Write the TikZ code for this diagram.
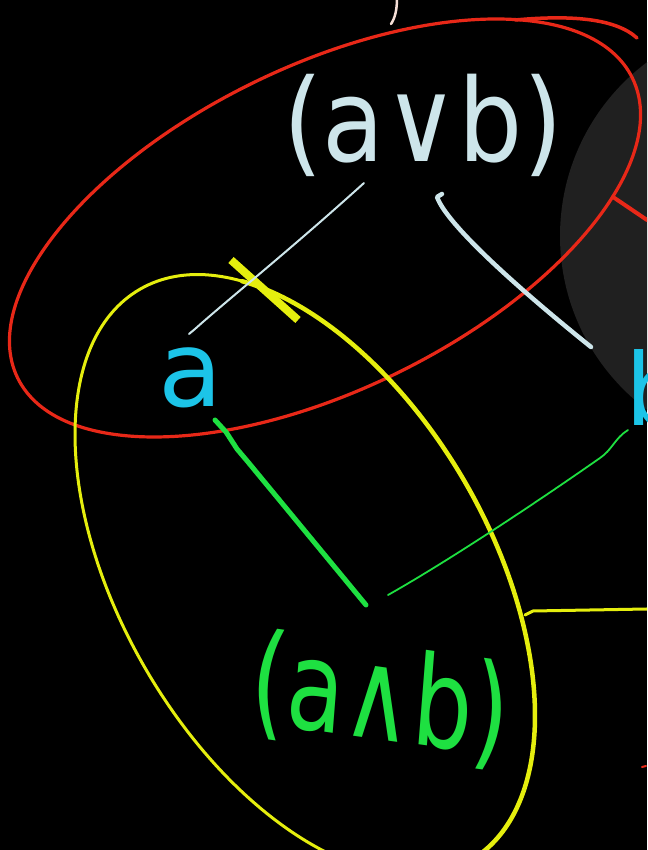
\documentclass[tikz,border=0pt]{standalone}
\usepackage{fontspec}
\newfontfamily\handfont{DejaVu Sans}
\definecolor{Disc}{RGB}{32,32,32}
\definecolor{Rline}{RGB}{232,40,24}
\definecolor{Yline}{RGB}{229,238,14}
\definecolor{Gline}{RGB}{30,224,65}
\definecolor{Ctext}{RGB}{28,196,232}
\definecolor{Wtext}{RGB}{205,229,234}
\definecolor{Ptick}{RGB}{245,222,214}

\begin{document}
\begin{tikzpicture}[x=1pt,y=1pt,line cap=round,line join=round,
  word/.style={inner sep=0pt,font=\handfont\fontsize{#1}{#1}\selectfont}]
\useasboundingbox (0,0) rectangle (647,850);
\fill[black] (0,0) rectangle (647,850);
\begin{scope}
\clip (0,0) rectangle (647,850);
\fill[Disc] (777,614) circle[radius=217];
% red ring
\draw[Rline,line width=3.2pt] (325,622) ellipse[x radius=342,y radius=162,rotate=26];
\draw[Rline,line width=3.5pt] (515,830) .. controls (570,835) and (615,832) .. (637,812);
\draw[Rline,line width=4pt] (613,653) -- (647,630);
\draw[Rline,line width=2pt] (642,83) -- (646,84);
\draw[Ptick,line width=2.5pt] (397,852) .. controls (397,840) and (395,832) .. (391,826);
% yellow ring
\draw[Yline,line width=3pt] (305,275) ellipse[x radius=330,y radius=185,rotate=-60];
\draw[Yline,line width=4.5pt,rotate around={-60:(305,275)}] ([shift={(150:330 and 185)}]305,275) arc[start angle=150,end angle=-40,x radius=330,y radius=185];
\draw[Yline,line width=8pt,line cap=butt] (231,590) -- (298,530);
\draw[Yline,line width=3pt] (525,235) -- (533,239) -- (647,241);
% terms
\node[word=115,xscale=0.88,text=Wtext] (orr) at (423,725) {(a∨b)};
\node[word=105,text=Ctext] (na) at (191,472) {a};
\node[word=100,text=Ctext] (nb) at (657,462) {b};
\node[word=125,xscale=0.75,rotate=-6,text=Gline] (nand) at (380,150) {(a∧b)};
% links
\draw[Wtext,line width=2pt] ([shift={(-59,-58)}]orr.center) .. controls (290,600) and (225,548) .. (195,521) -- ([shift={(-2,44)}]na.center);
\draw[Wtext,line width=4.5pt] ([shift={(19,-69)}]orr.center) -- (437,653) .. controls (447,625) and (520,560) .. ([shift={(-66,41)}]nb.center);
\draw[Gline,line width=5pt] ([shift={(24,-42)}]na.center) -- (226,418) -- (237,401) -- (248,388) -- ([shift={(-14,95)}]nand.center);
\draw[Gline,line width=1.8pt] ([shift={(-29,-42)}]nb.center) .. controls (615,412) and (612,400) .. (600,392) .. controls (540,350) and (450,290) .. ([shift={(8,105)}]nand.center);
\end{scope}
\end{tikzpicture}
\end{document}
